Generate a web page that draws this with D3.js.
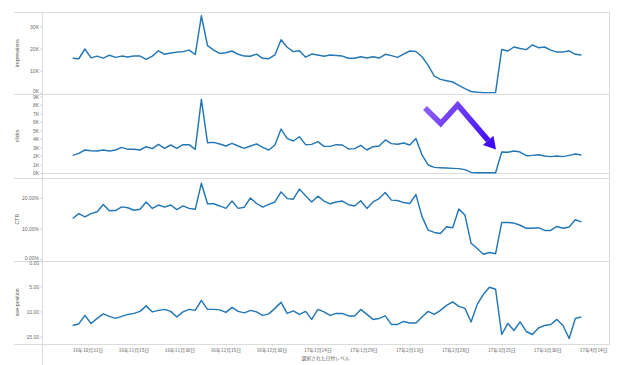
<!DOCTYPE html>
<html>
<head>
<meta charset="utf-8">
<script src="https://cdn.jsdelivr.net/npm/d3@7"></script>
<style>
  body { margin: 0; background: #fff; }
  .chart svg { display: block; }
  .tick-label { font-family: 'Liberation Sans', Arial, sans-serif; font-size: 5px; fill: #6a6a6a; }
  .date-label { font-family: 'Noto Sans CJK JP', sans-serif; font-size: 4.8px; fill: #5a5a5a; }
  .axis-title { font-family: 'Liberation Sans', Arial, sans-serif; font-size: 5.2px; fill: #555; }
  .rule { stroke: #dcdcdc; stroke-width: 1; shape-rendering: crispEdges; }
  .series { fill: none; stroke: #2477b6; stroke-width: 1.45; stroke-linejoin: round; }
</style>
</head>
<body>
<div class="chart"></div>
<script>
// one point every 2 days starting here
const firstDay = '2016-10-26';
const stepDays = 2;

// impressions (thousands)
const impressions = [15.8, 15.6, 20.0, 16.0, 16.8, 15.9, 17.2, 16.2, 16.8, 16.4,
  16.9, 16.8, 15.3, 16.8, 19.2, 17.6, 18.2, 18.6, 18.8, 19.5,
  17.5, 35.0, 21.5, 19.5, 18.0, 18.3, 19.1, 17.6, 16.8, 16.7,
  17.7, 15.8, 15.6, 17.3, 24.2, 20.8, 18.8, 19.2, 16.3, 17.7,
  17.3, 16.7, 17.3, 17.1, 16.8, 15.8, 15.8, 16.5, 15.9, 16.5,
  15.9, 17.6, 17.0, 16.2, 17.7, 19.1, 18.9, 16.5, 12.6, 7.8,
  6.3, 5.7, 5.1, 3.6, 2.1, 0.8, 0.45, 0.3, 0.3, 0.4,
  19.8, 19.1, 20.9, 20.2, 19.7, 21.8, 20.6, 20.9, 19.5, 18.6,
  18.6, 19.2, 17.6, 17.3];

// clicks (thousands)
const clicks = [2.11, 2.35, 2.74, 2.66, 2.62, 2.74, 2.62, 2.74, 3.05, 2.82,
  2.82, 2.74, 3.13, 2.90, 3.41, 2.94, 3.33, 2.94, 3.37, 3.37,
  2.82, 8.7, 3.6, 3.64, 3.45, 3.21, 3.53, 3.21, 2.94, 3.21,
  3.45, 3.05, 2.74, 3.33, 5.2, 4.1, 3.8, 4.3, 3.37, 3.4,
  3.72, 3.17, 3.17, 3.37, 3.33, 2.86, 2.90, 3.29, 2.74, 3.13,
  3.21, 3.92, 3.49, 3.41, 3.56, 3.33, 4.1, 2.15, 0.98, 0.7,
  0.66, 0.62, 0.58, 0.55, 0.43, 0.11, 0.07, 0.07, 0.07, 0.07,
  2.5, 2.47, 2.62, 2.5, 2.07, 2.11, 2.19, 2.04, 1.96, 2.04,
  1.96, 2.11, 2.27, 2.15];

// CTR (percent)
const ctr = [13.4, 15.0, 13.95, 15.0, 15.6, 18.0, 15.9, 16.0, 17.2, 16.9,
  16.1, 16.4, 18.8, 16.7, 17.8, 17.1, 17.8, 16.3, 17.5, 16.7,
  16.4, 24.9, 18.2, 18.2, 17.5, 16.7, 19.1, 16.7, 17.1, 20.1,
  18.3, 17.1, 18.0, 18.8, 22.1, 19.9, 19.7, 23.0, 20.8, 18.8,
  20.7, 19.1, 18.2, 18.8, 19.1, 17.9, 17.5, 19.2, 16.7, 18.8,
  19.9, 21.9, 19.4, 19.3, 18.6, 18.3, 21.2, 14.0, 9.6, 8.85,
  8.5, 10.7, 10.4, 16.5, 14.5, 5.3, 3.6, 1.7, 2.3, 1.9,
  12.1, 12.1, 11.9, 11.2, 10.2, 10.2, 10.4, 9.5, 9.5, 10.8,
  10.2, 10.6, 13.0, 12.3];

// average position (lower is better, axis reversed)
const avePosition = [12.7, 12.4, 10.7, 12.3, 11.3, 10.4, 10.9, 11.3, 10.9, 10.5,
  10.3, 9.9, 8.8, 10.0, 9.7, 9.5, 9.9, 11.0, 10.0, 9.5,
  9.7, 7.7, 9.5, 9.5, 9.6, 10.1, 9.1, 9.9, 10.2, 9.7,
  10.0, 10.7, 10.4, 9.3, 8.1, 10.3, 9.8, 10.5, 9.9, 11.5,
  9.5, 10.0, 10.7, 10.3, 10.3, 10.8, 10.8, 9.5, 10.5, 11.5,
  11.3, 10.8, 12.5, 12.5, 11.9, 12.2, 12.2, 11.0, 9.9, 10.5,
  9.7, 8.7, 8.0, 8.9, 9.3, 12.0, 8.5, 6.5, 5.1, 5.5,
  14.5, 12.3, 13.7, 12.0, 13.9, 14.5, 13.2, 12.7, 12.5, 11.5,
  12.7, 15.3, 11.3, 11.0];

// axis ticks
const dateTicks = ['2016-10-31', '2016-11-15', '2016-11-30', '2016-12-15', '2016-12-30',
  '2017-01-14', '2017-01-29', '2017-02-13', '2017-02-28', '2017-03-15', '2017-03-30', '2017-04-14'];
const impressionTicks = [0, 10, 20, 30];
const clickTicks = [0, 1, 2, 3, 4, 5, 6, 7, 8, 9];
const ctrTicks = [0, 10, 20];
const positionTicks = [0, 5, 10, 15];
const xTitle = '選択された日付レベル';

const width = 623;
const height = 365;
const left = 42;
const right = 609;
const ruleLeft = 14;
const plotBottom = 344;

const parse = d3.timeParse('%Y-%m-%d');
const start = parse(firstDay);
const dates = impressions.map((_, i) => d3.timeDay.offset(start, i * stepDays));

const x = d3.scaleTime()
  .domain([parse('2016-10-16'), parse('2017-04-19')])
  .range([left, right]);

// panel layout (top/bottom in px), y range maps domain ends
const panels = [
  { title: 'impressions', values: impressions, top: 12, bottom: 94,
    domain: [0, 36.7], range: [93.3, 12], ticks: impressionTicks, fmt: (v) => `${v}K` },
  { title: 'clicks', values: clicks, top: 94, bottom: 177.7, zeroLine: true,
    domain: [0, 9], range: [173.3, 96.8], ticks: clickTicks, fmt: (v) => `${v}K` },
  { title: 'CTR', values: ctr, top: 177.7, bottom: 260.5,
    domain: [0, 20], range: [259.5, 198.3], ticks: ctrTicks, fmt: (v) => `${v.toFixed(2)}%` },
  { title: 'ave-position', values: avePosition, top: 260.5, bottom: plotBottom,
    domain: [0, 15], range: [261.7, 337], ticks: positionTicks, fmt: (v) => v.toFixed(2) }
];

const svg = d3.select('.chart')
  .append('svg')
  .attr('width', width)
  .attr('height', height);

// frame: horizontal rules between panels, left axis line, right border
const ruleYs = [12].concat(panels.map((p) => p.bottom));
svg.selectAll('line.hrule')
  .data(ruleYs)
  .enter().append('line')
  .attr('class', 'rule hrule')
  .attr('x1', ruleLeft)
  .attr('x2', right)
  .attr('y1', (d) => Math.round(d) + 0.5)
  .attr('y2', (d) => Math.round(d) + 0.5);

svg.append('line')
  .attr('class', 'rule')
  .attr('x1', left + 0.5).attr('x2', left + 0.5)
  .attr('y1', 12).attr('y2', height);

svg.append('line')
  .attr('class', 'rule')
  .attr('x1', right + 0.5).attr('x2', right + 0.5)
  .attr('y1', 12).attr('y2', plotBottom + 1);

panels.forEach((p) => {
  const y = d3.scaleLinear().domain(p.domain).range(p.range);
  const g = svg.append('g');

  if (p.zeroLine) {
    g.append('line')
      .attr('class', 'rule')
      .attr('x1', left).attr('x2', right)
      .attr('y1', Math.round(y(0)) + 0.5)
      .attr('y2', Math.round(y(0)) + 0.5);
  }

  // y ticks, edge labels nudged inside the panel
  const clampY = (v) => Math.max(p.top + 3, Math.min(p.bottom - 2.5, v));
  const tick = g.selectAll('g.ytick')
    .data(p.ticks)
    .enter().append('g')
    .attr('class', 'ytick');

  tick.append('line')
    .attr('x1', left - 2).attr('x2', left)
    .attr('y1', (d) => y(d)).attr('y2', (d) => y(d))
    .attr('stroke', '#bbb')
    .attr('stroke-width', 0.6);

  tick.append('text')
    .attr('class', 'tick-label')
    .attr('x', left - 3)
    .attr('y', (d) => clampY(y(d)))
    .attr('dy', '0.35em')
    .attr('text-anchor', 'end')
    .text(p.fmt);

  // panel title
  g.append('text')
    .attr('class', 'axis-title')
    .attr('transform', `translate(19,${(p.top + p.bottom) / 2}) rotate(-90)`)
    .attr('text-anchor', 'middle')
    .text(p.title);

  // the series line
  const line = d3.line()
    .x((d, i) => x(dates[i]))
    .y((d) => y(d));

  g.append('path')
    .datum(p.values)
    .attr('class', 'series')
    .attr('d', line);
});

// bottom date axis
const xAxis = svg.append('g');
xAxis.selectAll('text')
  .data(dateTicks.map(parse))
  .enter().append('text')
  .attr('class', 'date-label')
  .attr('x', (d) => x(d))
  .attr('y', 350)
  .attr('dy', '0.35em')
  .attr('text-anchor', 'middle')
  .text(d3.timeFormat('%y年%-m月%-d日'));

xAxis.selectAll('line')
  .data(dateTicks.map(parse))
  .enter().append('line')
  .attr('x1', (d) => Math.round(x(d)) + 0.5)
  .attr('x2', (d) => Math.round(x(d)) + 0.5)
  .attr('y1', plotBottom)
  .attr('y2', plotBottom + 2)
  .attr('stroke', '#ccc')
  .attr('stroke-width', 0.6);

svg.append('text')
  .attr('class', 'date-label')
  .attr('x', (left + right) / 2)
  .attr('y', 358.5)
  .attr('dy', '0.35em')
  .attr('text-anchor', 'middle')
  .text(xTitle);

// annotation arrow (zig-zag, purple to blue)
const defs = svg.append('defs');
const grad = defs.append('linearGradient')
  .attr('id', 'arrowGrad')
  .attr('gradientUnits', 'userSpaceOnUse')
  .attr('x1', 422).attr('y1', 105)
  .attr('x2', 497).attr('y2', 150);
grad.append('stop').attr('offset', '0%').attr('stop-color', '#9163f2');
grad.append('stop').attr('offset', '100%').attr('stop-color', '#3800ff');

const tip = [496, 149.5];
const from = [457.7, 105];
const len = Math.hypot(tip[0] - from[0], tip[1] - from[1]);
const ux = (tip[0] - from[0]) / len;
const uy = (tip[1] - from[1]) / len;
const base = [tip[0] - ux * 12, tip[1] - uy * 12];
const half = 7;

svg.append('path')
  .attr('d', `M425,108 L440.7,123.5 L${from[0]},${from[1]} L${base[0]},${base[1]}`)
  .attr('fill', 'none')
  .attr('stroke', 'url(#arrowGrad)')
  .attr('stroke-width', 5.5)
  .attr('stroke-linejoin', 'miter');

svg.append('path')
  .attr('d', `M${tip[0]},${tip[1]} L${base[0] - uy * half},${base[1] + ux * half} L${base[0] + uy * half},${base[1] - ux * half} Z`)
  .attr('fill', 'url(#arrowGrad)');
</script>
</body>
</html>
